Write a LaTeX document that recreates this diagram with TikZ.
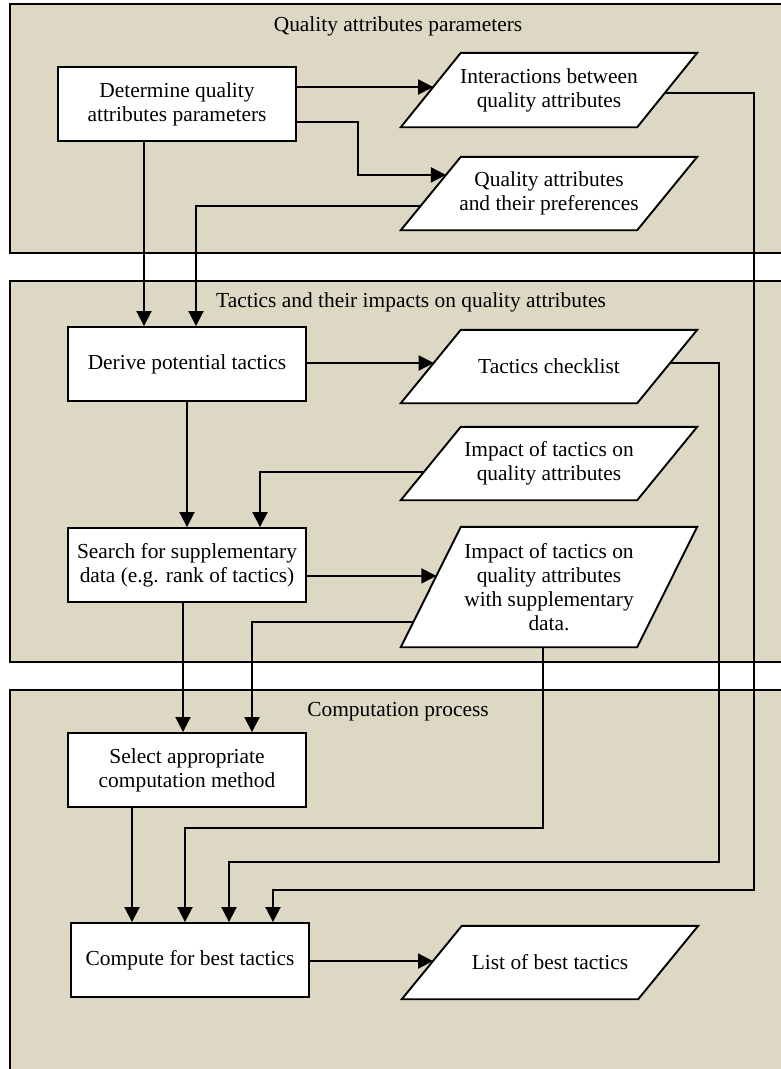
\documentclass[tikz,border=0pt]{standalone}
\usepackage{fontspec}
\setmainfont{Liberation Serif}
\usetikzlibrary{calc,arrows.meta}
\pgfdeclarelayer{back}
\pgfdeclarelayer{mid}
\pgfsetlayers{back,mid,main}
\definecolor{panelfill}{RGB}{220,216,195}
\newcommand\mysize{\fontsize{21.4}{24}\selectfont}
\tikzset{
  procbox/.style={draw, line width=1.9pt, fill=white, minimum width=238pt, minimum height=74pt, inner sep=0pt, align=center, font=\mysize},
  databox/.style={minimum width=296pt, minimum height=#1, inner sep=0pt, align=center, font=\mysize},
  databox/.default=73pt,
  paneltitle/.style={inner sep=0pt, font=\mysize},
  panelbox/.style={fill=panelfill, draw=black, line width=1.8pt},
  conn/.style={line width=1.9pt, -{Triangle[length=15pt,width=15pt]}},
}
\newcommand\paradraw[1]{%
  \begin{pgfonlayer}{mid}
    \draw[line width=1.9pt, fill=white] ([xshift=60pt]#1.north west) -- (#1.north east) -- ([xshift=-60pt]#1.south east) -- (#1.south west) -- cycle;
  \end{pgfonlayer}}
\begin{document}
\begin{tikzpicture}[x=1pt,y=-1pt]
\useasboundingbox (0,0) rectangle (780,1069);
% panels
\begin{pgfonlayer}{back}
  \draw[panelbox] (10,4) rectangle (800,253);
  \draw[panelbox] (10,281) rectangle (800,662);
  \draw[panelbox] (10,690) rectangle (800,1090);
\end{pgfonlayer}
\node[paneltitle] (t1) at (398,26) {Quality attributes parameters};
\node[paneltitle] (t2) at (411,302) {Tactics and their impacts on quality attributes};
\node[paneltitle] (t3) at (398,712) {Computation process};

% process boxes
\node[procbox] (A) at (177,104) {Determine quality\\attributes parameters};
\node[procbox] (D) at (187,364) {Derive potential tactics};
\node[procbox] (S) at (187,565) {Search for supplementary\\data (e.g. rank of tactics)};
\node[procbox] (L) at (187,770) {Select appropriate\\computation method};
\node[procbox] (C) at (190,960) {Compute for best tactics};

% data boxes
\node[databox=74pt] (I) at (549,90) {Interactions between\\quality attributes};
\paradraw{I}
\node[databox] (Q) at (549,193.5) {Quality attributes\\and their preferences};
\paradraw{Q}
\node[databox] (K) at (549,366.5) {Tactics checklist};
\paradraw{K}
\node[databox] (M) at (549,463.5) {Impact of tactics on\\quality attributes};
\paradraw{M}
\node[databox=120pt] (P) at (549,587) {Impact of tactics on\\quality attributes\\with supplementary\\data.};
\paradraw{P}
\node[databox] (B) at (550,962.5) {List of best tactics};
\paradraw{B}

% points on slanted edges
\coordinate (Iin)  at ($(I.south west)!0.54!([xshift=60pt]I.north west)$);
\coordinate (Iout) at ($([xshift=-60pt]I.south east)!0.46!(I.north east)$);
\coordinate (Qin)  at ($(Q.south west)!0.753!([xshift=60pt]Q.north west)$);
\coordinate (Qout) at ($(Q.south west)!0.329!([xshift=60pt]Q.north west)$);
\coordinate (Kin)  at ($(K.south west)!0.548!([xshift=60pt]K.north west)$);
\coordinate (Kout) at ($([xshift=-60pt]K.south east)!0.548!(K.north east)$);
\coordinate (Mout) at ($(M.south west)!0.384!([xshift=60pt]M.north west)$);
\coordinate (Pin)  at ($(P.south west)!0.592!([xshift=60pt]P.north west)$);
\coordinate (Pout) at ($(P.south west)!0.208!([xshift=60pt]P.north west)$);
\coordinate (Pbot) at ([xshift=-6pt]P.south);
\coordinate (Bin)  at ($(B.south west)!0.52!([xshift=60pt]B.north west)$);
\coordinate (a1) at ([xshift=-33pt]A.south);
\coordinate (s1) at ([xshift=-4pt]S.south);
\coordinate (l1) at ([xshift=-55pt]L.south);

% connectors
\draw[conn] (A.east |- Iin) -- (Iin);
\draw[conn] ([yshift=-18pt]A.east) -- ++(61,0) |- (Qin);
\draw[conn] (a1) -- (a1 |- D.north);
\draw[conn] (Qout) -| ([xshift=9pt]D.north);
\draw[conn] (Iout) -| (754,890) -| ([xshift=83pt]C.north);
\draw[conn] (D.east |- Kin) -- (Kin);
\draw[conn] (Kout) -| (719,862) -| ([xshift=39pt]C.north);
\draw[conn] (D.south) -- (S.north);
\draw[conn] (Mout) -| ([xshift=73pt]S.north);
\draw[conn] (S.east |- Pin) -- (Pin);
\draw[conn] (Pout) -| ([xshift=65pt]L.north);
\draw[conn] (s1) -- (s1 |- L.north);
\draw[conn] (Pbot) -- (Pbot |- 0,828) -| ([xshift=-5pt]C.north);
\draw[conn] (l1) -- (l1 |- C.north);
\draw[conn] (C.east |- Bin) -- (Bin);
\end{tikzpicture}
\end{document}
